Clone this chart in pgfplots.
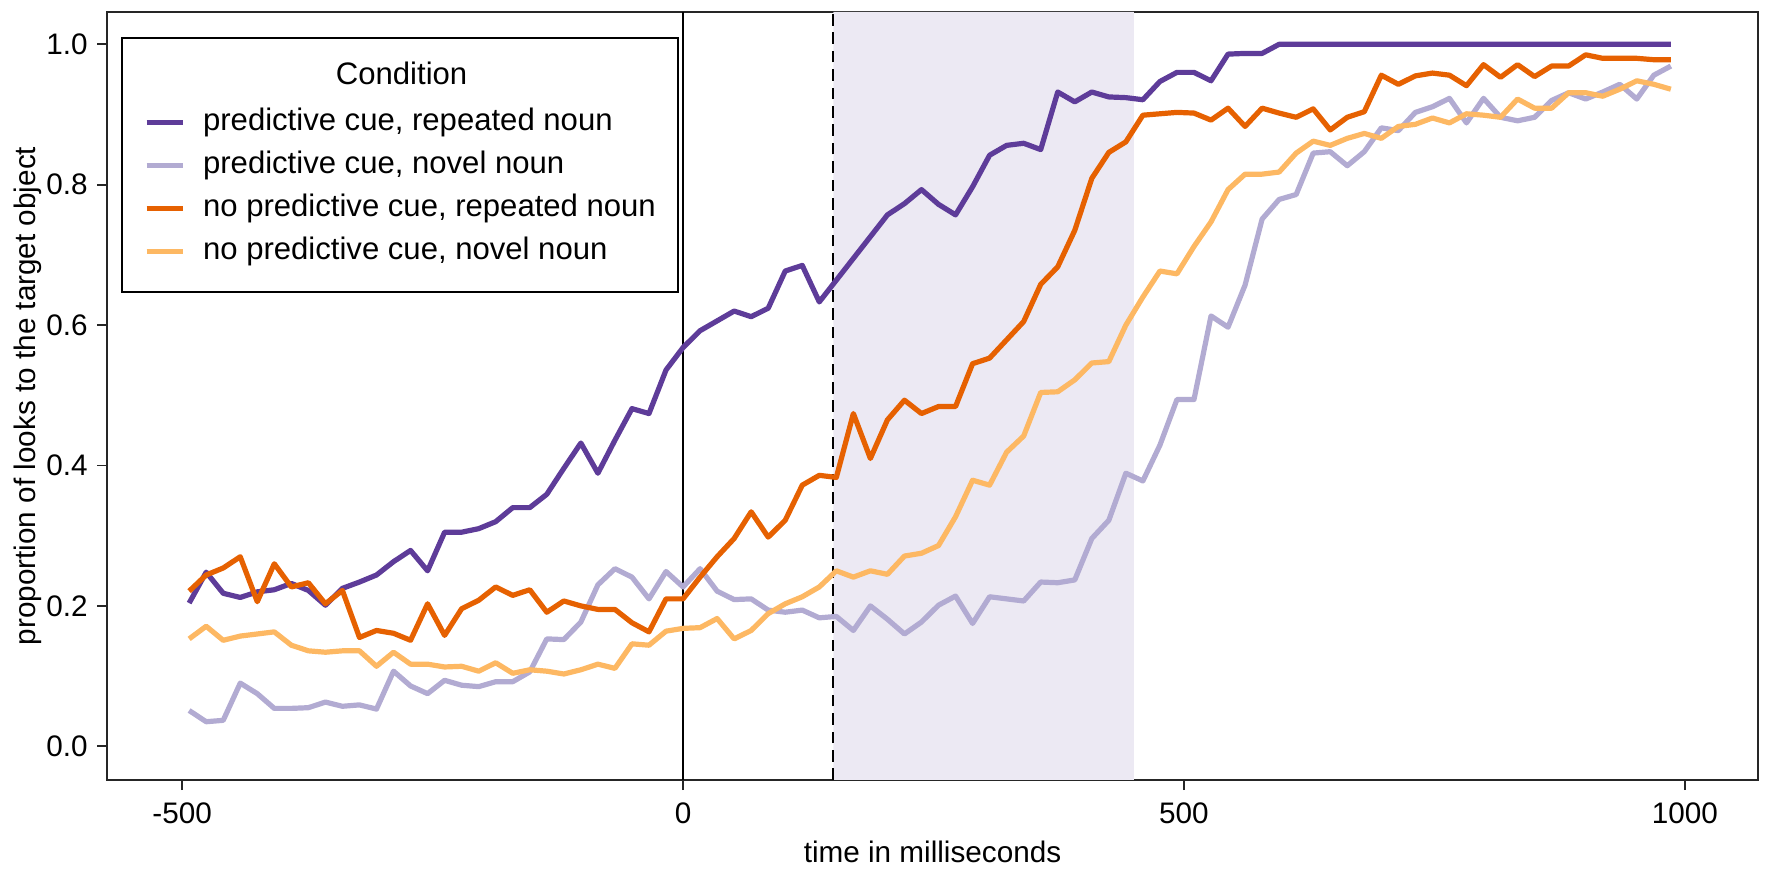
\documentclass[border=0pt]{standalone}
\usepackage{fontspec}
\setmainfont{Liberation Sans}
\usepackage{pgfplots}
\usepackage{pgfplotstable}
\pgfplotsset{compat=1.18}
\definecolor{cPR}{HTML}{5E3C99}
\definecolor{cPN}{HTML}{B2ABD2}
\definecolor{cNR}{HTML}{E66101}
\definecolor{cNN}{HTML}{FDB863}
\definecolor{shade}{RGB}{236,233,243}
\pgfplotstableread{
t pr pn nr nn
-493 .204 .051 .221 .153
-476 .248 .035 .244 .171
-459 .218 .037 .254 .151
-442 .212 .090 .270 .157
-425 .220 .075 .206 .160
-408 .223 .054 .260 .163
-391 .232 .054 .227 .144
-374 .222 .055 .233 .136
-357 .201 .063 .203 .134
-340 .225 .057 .222 .136
-323 .234 .059 .155 .136
-306 .244 .053 .165 .114
-289 .263 .107 .161 .134
-272 .279 .086 .151 .117
-255 .250 .075 .203 .117
-238 .305 .094 .158 .113
-221 .305 .087 .196 .114
-204 .310 .085 .208 .107
-187 .320 .092 .227 .119
-170 .340 .092 .215 .104
-153 .340 .106 .223 .109
-136 .359 .153 .191 .107
-119 .396 .152 .207 .103
-102 .432 .177 .200 .109
-85 .389 .230 .195 .117
-68 .436 .253 .195 .111
-51 .481 .241 .176 .146
-34 .474 .210 .163 .144
-17 .536 .249 .210 .164
0 .568 .227 .210 .168
17 .592 .253 .241 .169
34 .606 .221 .270 .182
51 .620 .209 .296 .153
68 .612 .210 .334 .165
85 .624 .194 .298 .189
102 .677 .191 .322 .203
119 .685 .194 .372 .213
136 .633 .183 .386 .227
153 .664 .185 .383 .250
170 .695 .165 .474 .241
187 .726 .200 .410 .250
204 .757 .181 .465 .245
221 .773 .160 .493 .271
238 .793 .177 .474 .275
255 .772 .201 .484 .286
272 .757 .214 .484 .327
289 .797 .175 .545 .379
306 .842 .213 .553 .372
323 .856 .210 .579 .419
340 .859 .207 .605 .442
357 .850 .234 .658 .504
374 .932 .233 .683 .505
391 .918 .237 .735 .522
408 .932 .296 .809 .546
425 .925 .322 .846 .548
442 .924 .389 .861 .600
459 .921 .378 .899 .640
476 .947 .429 .901 .677
493 .960 .494 .903 .673
510 .960 .494 .902 .712
527 .948 .613 .892 .747
544 .986 .597 .909 .793
561 .987 .657 .883 .815
578 .987 .751 .909 .815
595 1.000 .779 .902 .818
612 1.000 .786 .896 .845
629 1.000 .845 .908 .862
646 1.000 .847 .878 .856
663 1.000 .827 .896 .866
680 1.000 .847 .904 .873
697 1.000 .881 .956 .866
714 1.000 .877 .943 .883
731 1.000 .903 .955 .886
748 1.000 .911 .959 .895
765 1.000 .923 .956 .888
782 1.000 .888 .941 .901
799 1.000 .923 .971 .899
816 1.000 .896 .953 .896
833 1.000 .891 .971 .922
850 1.000 .896 .954 .909
867 1.000 .920 .969 .909
884 1.000 .931 .969 .931
901 1.000 .922 .985 .931
918 1.000 .932 .980 .926
935 1.000 .943 .980 .936
952 1.000 .922 .980 .948
969 1.000 .956 .978 .943
986 1.000 .969 .978 .936
}\data
\begin{document}
\begin{tikzpicture}[font=\fontsize{14.9}{17.8}\selectfont]
\useasboundingbox (-53.5bp,-45.5bp) rectangle (832.5bp,390bp);
\begin{axis}[
  at={(0,0)}, anchor=south west,
  scale only axis, width=825.5bp, height=384bp,
  xmin=-575, xmax=1073, ymin=-0.048, ymax=1.046,
  xtick={-500,0,500,1000}, ytick={0,0.2,0.4,0.6,0.8,1.0},
  tick pos=left, tick align=outside, major tick length=5bp,
  tick style={line width=0.9bp, black!85},
  axis line style={line width=0.9bp, black!85},
  /pgf/number format/assume math mode=true,
  yticklabel style={/pgf/number format/fixed, /pgf/number format/fixed zerofill, /pgf/number format/precision=1, inner sep=0pt, xshift=-4.5bp},
  xticklabel style={/pgf/number format/1000 sep={}, inner sep=0pt, yshift=-6.25bp},
  xlabel={time in milliseconds},
  ylabel={proportion of looks to the target object},
  xlabel style={at={(axis description cs:0.5,-0.09375)}, anchor=center, inner sep=0pt},
  ylabel style={at={(axis description cs:-0.04785,0.5)}, anchor=center, inner sep=0pt},
  no markers,
  legend style={at={(axis description cs:0.00848,0.96745)}, anchor=north west,
    draw=black, line width=0.9bp, fill=white,
    inner xsep=11bp, inner ysep=12.5bp, row sep=7bp,
    font=\fontsize{15.6}{18.7}\selectfont,
    nodes={inner sep=0pt, text height=11bp, text depth=3.5bp, anchor=base west},
    /tikz/every odd column/.append style={column sep=9bp}},
  legend cell align=left,
  legend image code/.code={\draw[#1] (0bp,4.06bp) -- (18bp,4.06bp);},
]
\addplot[draw=none, fill=shade, forget plot] coordinates {(150,-0.048) (450,-0.048) (450,1.046) (150,1.046) (150,-0.048)};
\addplot[black, line width=0.85bp, forget plot] coordinates {(0,-0.048) (0,1.046)};
\addplot[black, line width=0.85bp, dash pattern=on 5.8bp off 3.4bp, forget plot] coordinates {(150,-0.048) (150,1.046)};
\addlegendimage{empty legend}
\addlegendentry[text depth=4.96bp]{\makebox[0pt][l]{\hspace*{98.75bp}\makebox[0pt][c]{Condition}}}
\addplot[cPR, line width=2.6bp, line join=round] table[x=t, y=pr]{\data};
\addlegendentry{predictive cue, repeated noun}
\addplot[cPN, line width=2.6bp, line join=round] table[x=t, y=pn]{\data};
\addlegendentry{predictive cue, novel noun}
\addplot[cNR, line width=2.6bp, line join=round] table[x=t, y=nr]{\data};
\addlegendentry{no predictive cue, repeated noun}
\addplot[cNN, line width=2.6bp, line join=round] table[x=t, y=nn]{\data};
\addlegendentry{no predictive cue, novel noun}
\end{axis}
\end{tikzpicture}
\end{document}
